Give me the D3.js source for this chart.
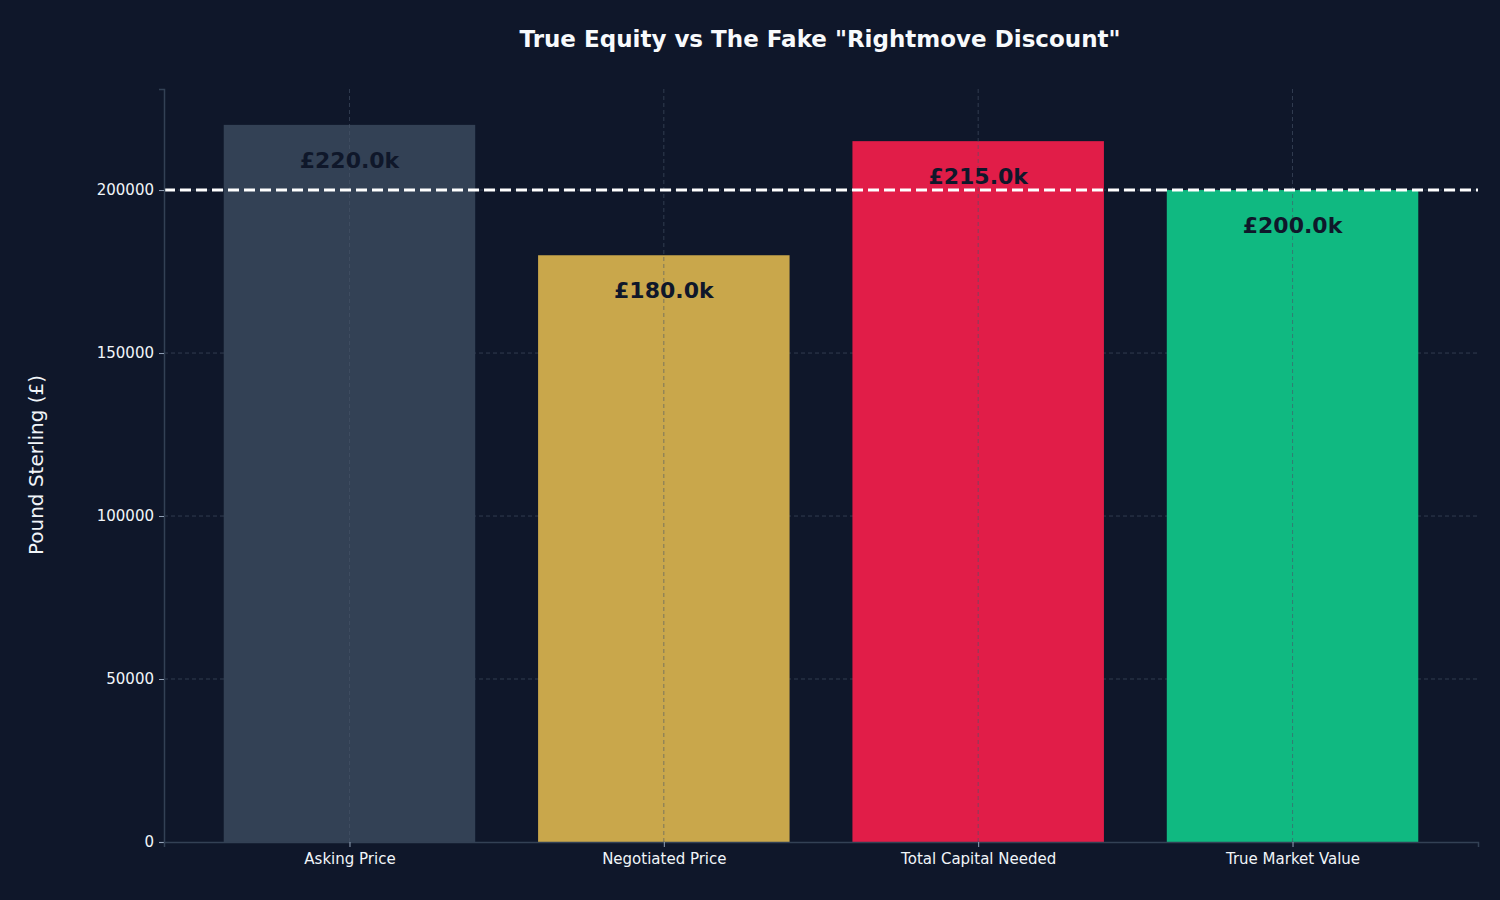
<!DOCTYPE html>
<html><head><meta charset="utf-8">
<script src="https://cdn.jsdelivr.net/npm/d3@7"></script>
<style>body{margin:0;background:#0f172a}svg{display:block;font-family:"DejaVu Sans",sans-serif}</style>
</head><body><svg id="c" width="1500" height="900"></svg>
<script>
const categories = ["Asking Price", "Negotiated Price", "Total Capital Needed", "True Market Value"];
const values = [220000, 180000, 215000, 200000];
const colors = ["#334155", "#c9a74b", "#e11d48", "#10b981"];
const yTicks = [0, 50000, 100000, 150000, 200000];
const refValue = 200000;

const svg = d3.select("#c");
const mLeft = 164, mRight = 1478, mTop = 89, mBottom = 842;

const x = d3.scaleLinear().domain([-0.59, 3.59]).range([mLeft, mRight]);
const y = d3.scaleLinear().domain([0, 231000]).range([mBottom, mTop]);
const bw = x(0.4) - x(-0.4);

svg.append("text").attr("x", 820).attr("y", 47).attr("text-anchor", "middle")
  .attr("fill", "#f8fafc").attr("font-size", 23).attr("font-weight", "bold")
  .text('True Equity vs The Fake "Rightmove Discount"');

// horizontal grid
svg.append("g").selectAll("line").data(yTicks.slice(1)).join("line")
  .attr("x1", mLeft).attr("x2", mRight).attr("y1", d => y(d)).attr("y2", d => y(d))
  .attr("stroke", "#475569").attr("stroke-opacity", 0.6).attr("stroke-dasharray", "4,3");

svg.append("g").selectAll("rect").data(values).join("rect")
  .attr("x", (d, i) => x(i) - bw / 2).attr("width", bw)
  .attr("y", d => y(d)).attr("height", d => mBottom - y(d))
  .attr("fill", (d, i) => colors[i]);

// vertical grid over bars
svg.append("g").selectAll("line").data(categories).join("line")
  .attr("x1", (d, i) => x(i)).attr("x2", (d, i) => x(i)).attr("y1", mTop).attr("y2", mBottom)
  .attr("stroke", "#475569").attr("stroke-opacity", 0.6).attr("stroke-dasharray", "4,3");

svg.append("line").attr("x1", mLeft).attr("x2", mRight)
  .attr("y1", y(refValue)).attr("y2", y(refValue))
  .attr("stroke", "#ffffff").attr("stroke-width", 3).attr("stroke-dasharray", "11,5");

svg.append("g").selectAll("text").data(values).join("text")
  .attr("x", (d, i) => x(i)).attr("y", d => y(d) + 43).attr("text-anchor", "middle")
  .attr("fill", "#0f172a").attr("font-size", 22).attr("font-weight", "bold")
  .text(d => "£" + (d / 1000).toFixed(1) + "k");

// axes
const ya = svg.append("g").attr("transform", `translate(${mLeft},0)`)
  .call(d3.axisLeft(y).tickValues(yTicks).tickFormat(d3.format("d")).tickSize(5).tickPadding(5));
const xa = svg.append("g").attr("transform", `translate(0,${mBottom})`)
  .call(d3.axisBottom(x).tickValues(d3.range(categories.length)).tickFormat(i => categories[i]).tickSize(5).tickPadding(6));
[ya, xa].forEach(a => {
  a.select(".domain").attr("stroke", "#334155").attr("stroke-width", 1.5);
  a.selectAll(".tick line").attr("stroke", "#94a3b8");
  a.selectAll("text").attr("fill", "#f1f5f9").attr("font-size", 15).attr("font-family", "DejaVu Sans");
});

svg.append("text").attr("transform", "translate(43,465) rotate(-90)").attr("text-anchor", "middle")
  .attr("fill", "#f1f5f9").attr("font-size", 20).text("Pound Sterling (£)");
</script></body></html>
